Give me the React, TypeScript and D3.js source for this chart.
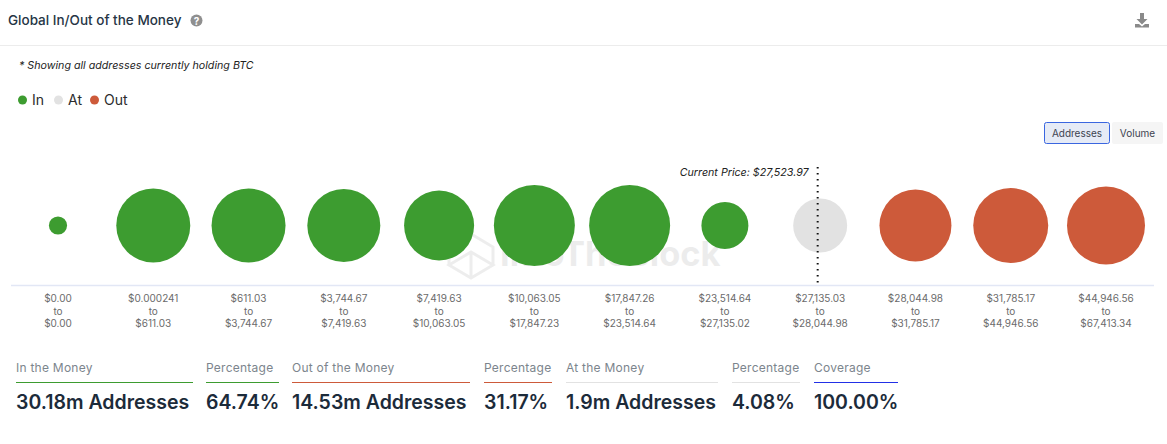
import { useEffect, useRef } from 'react';
import * as d3 from 'd3';

const rangeLow = ['$0.00', '$0.000241', '$611.03', '$3,744.67', '$7,419.63', '$10,063.05', '$17,847.26', '$23,514.64', '$27,135.03', '$28,044.98', '$31,785.17', '$44,946.56'];
const rangeHigh = ['$0.00', '$611.03', '$3,744.67', '$7,419.63', '$10,063.05', '$17,847.23', '$23,514.64', '$27,135.02', '$28,044.98', '$31,785.17', '$44,946.56', '$67,413.34'];
// addresses per band in millions
const addresses = [0.27, 4.49, 4.49, 4.37, 4.02, 5.38, 5.38, 1.81, 2.39, 4.25, 4.61, 4.99];
const status = ['in', 'in', 'in', 'in', 'in', 'in', 'in', 'in', 'at', 'out', 'out', 'out'];

const legendKeys = ['in', 'at', 'out'];
const legendLabels = ['In', 'At', 'Out'];

const statLabels = ['In the Money', 'Percentage', 'Out of the Money', 'Percentage', 'At the Money', 'Percentage', 'Coverage'];
const statValues = ['30.18m Addresses', '64.74%', '14.53m Addresses', '31.17%', '1.9m Addresses', '4.08%', '100.00%'];
const statKeys = ['in', 'in', 'out', 'out', 'at', 'at', 'coverage'];
const statLeft = [16, 206, 292, 484, 566, 732, 814];
const statRight = [193, 279, 470, 552, 718, 800, 898];

const colors: Record<string, string> = {
  in: '#3d9c30',
  at: '#e2e2e2',
  out: '#cd5a3a',
  coverage: '#2230e6',
};

const font = 'Inter, "Noto Sans", sans-serif';

export default function App() {
  const svgRef = useRef<SVGSVGElement>(null);

  useEffect(() => {
    if (!svgRef.current) return;
    const svg = d3.select(svgRef.current);
    svg.selectAll('*').remove();
    svg.attr('font-family', font);

    // Header
    svg.append('text').attr('x', 8).attr('y', 25).attr('font-size', 13.5).attr('font-weight', 500).attr('fill', '#263545').text('Global In/Out of the Money');
    svg.append('circle').attr('cx', 196.5).attr('cy', 20.5).attr('r', 6).attr('fill', '#8f8f8f');
    svg.append('text').attr('x', 196.5).attr('y', 24.5).attr('text-anchor', 'middle').attr('font-size', 10).attr('font-weight', 700).attr('fill', '#fff').text('?');
    svg.append('line').attr('x1', 0).attr('x2', 1167).attr('y1', 45.5).attr('y2', 45.5).attr('stroke', '#ececec');

    // Download icon
    svg.append('path')
      .attr('d', 'M1140 13h4v6h3.5l-5.5 5.5-5.5-5.5h3.5z M1135 24h4l3 2.5 3-2.5h4v3.5h-14z')
      .attr('fill', '#8a8a8a');

    svg.append('text').attr('x', 19).attr('y', 69).attr('font-size', 10.7).attr('font-style', 'italic').attr('fill', '#222').text('* Showing all addresses currently holding BTC');

    // Legend
    const legendX = d3.scalePoint<string>().domain(legendKeys).range([22.5, 94.5]);
    legendKeys.forEach((k, i) => {
      const cx = legendX(k) as number;
      svg.append('circle').attr('cx', cx).attr('cy', 100).attr('r', 4.5).attr('fill', colors[k]);
      svg.append('text').attr('x', cx + 9.5).attr('y', 105).attr('font-size', 14).attr('fill', '#2c2c2c').text(legendLabels[i]);
    });

    // Toggle buttons
    svg.append('rect').attr('x', 1044.5).attr('y', 122.5).attr('width', 65).attr('height', 21).attr('rx', 2).attr('fill', '#e6ebf6').attr('stroke', '#3a66e0');
    svg.append('text').attr('x', 1077).attr('y', 137).attr('text-anchor', 'middle').attr('font-size', 10).attr('fill', '#3d4350').text('Addresses');
    svg.append('rect').attr('x', 1112).attr('y', 122).attr('width', 51).attr('height', 22).attr('rx', 2).attr('fill', '#f5f5f5');
    svg.append('text').attr('x', 1137.5).attr('y', 137).attr('text-anchor', 'middle').attr('font-size', 10).attr('fill', '#3d4350').text('Volume');

    // Watermark
    const mark = svg.append('g').attr('opacity', 0.07).attr('fill', 'none').attr('stroke', '#000').attr('stroke-width', 3);
    mark.append('path').attr('d', 'M449 265l22-13 22 13-22 13zM449 265v-9l22-22 22 13v18M471 252v26');
    svg.append('text').attr('x', 500).attr('y', 266).attr('font-size', 34.5).attr('font-weight', 700).attr('fill', '#000').attr('opacity', 0.07).text('IntoTheBlock');

    // Bubbles
    const x = d3.scalePoint<number>().domain(d3.range(addresses.length)).range([58, 1106]);
    const r = d3.scaleSqrt().domain([0, d3.max(addresses) as number]).range([0, 40.5]);
    const cy = 225.5;
    svg.append('g').selectAll('circle').data(addresses).join('circle')
      .attr('cx', (_, i) => x(i) as number)
      .attr('cy', cy)
      .attr('r', (d) => r(d))
      .attr('fill', (_, i) => colors[status[i]]);

    // Axis with the three line range labels
    const axis = svg.append('g').attr('transform', 'translate(0,285)');
    axis.append('line').attr('x1', 11).attr('x2', 1154).attr('y1', 0.5).attr('y2', 0.5).attr('stroke', '#e2e7f5').attr('stroke-width', 1.5);
    addresses.forEach((_, i) => {
      const t = axis.append('text').attr('text-anchor', 'middle').attr('font-size', 10).attr('fill', '#6b6b6b').attr('transform', `translate(${x(i)},0)`);
      [rangeLow[i], 'to', rangeHigh[i]].forEach((s, j) => {
        t.append('tspan').attr('x', 0).attr('y', 17 + j * 12.5).text(s);
      });
    });

    // Current price marker sits just left of the "at" band centre
    const priceX = (x(status.indexOf('at')) as number) - 2.5;
    svg.append('line').attr('x1', priceX).attr('x2', priceX).attr('y1', 167).attr('y2', 285)
      .attr('stroke', '#111').attr('stroke-width', 2).attr('stroke-dasharray', '1.5,4.5');
    svg.append('text').attr('x', priceX - 9).attr('y', 176).attr('text-anchor', 'end').attr('font-size', 10.7).attr('font-style', 'italic').attr('fill', '#222').text('Current Price: $27,523.97');

    // Stats row
    statLabels.forEach((label, i) => {
      svg.append('text').attr('x', statLeft[i]).attr('y', 372).attr('font-size', 12).attr('letter-spacing', 0.25).attr('fill', '#7c858d').text(label);
      svg.append('line').attr('x1', statLeft[i]).attr('x2', statRight[i]).attr('y1', 382.5).attr('y2', 382.5).attr('stroke', colors[statKeys[i]]).attr('stroke-width', 1);
      svg.append('text').attr('x', statLeft[i]).attr('y', 409).attr('font-size', 19.5).attr('font-weight', 600).attr('fill', '#1c2b3a').text(statValues[i]);
    });
  }, []);

  return (
    <svg
      ref={svgRef}
      width={1167}
      height={444}
      style={{ position: 'absolute', left: 0, top: 0, background: '#fff' }}
    />
  );
}
